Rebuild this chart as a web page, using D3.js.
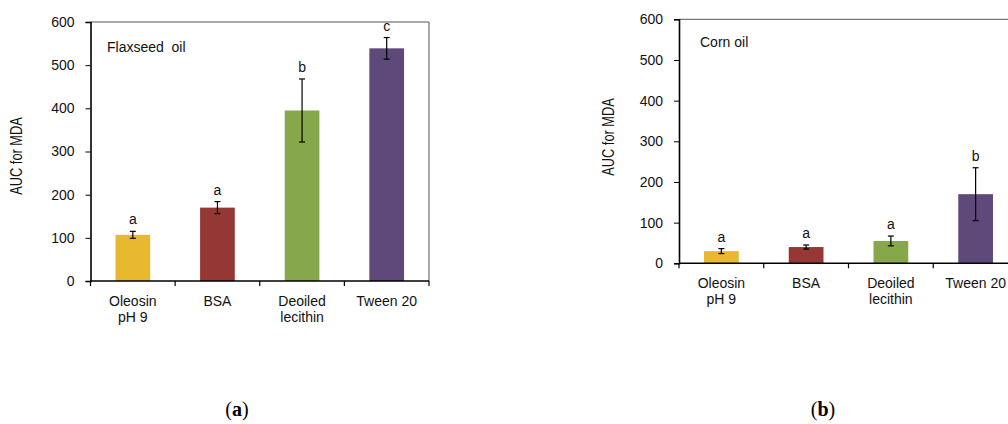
<!DOCTYPE html>
<html><head><meta charset="utf-8">
<script src="https://cdn.jsdelivr.net/npm/d3@7"></script>
<style>
body{margin:0;background:#fff;}
svg{display:block;font-family:"Liberation Sans",Arial,sans-serif;}
</style></head>
<body><svg id="c" width="1008" height="424"></svg>
<script>
const categories = ["Oleosin\npH 9", "BSA", "Deoiled\nlecithin", "Tween 20"];
const colors = ["#E8B92F", "#953735", "#86A84A", "#5F497A"];
const yTicks = [0, 100, 200, 300, 400, 500, 600];

const flaxValues = [107, 170, 395, 539];
const flaxErrors = [8, 14, 73, 25];
const flaxLetters = ["a", "a", "b", "c"];

const cornValues = [30, 40, 55, 170];
const cornErrors = [6, 5, 12, 65];
const cornLetters = ["a", "a", "a", "b"];

const panels = [
  {title: "Flaxseed  oil", values: flaxValues, errors: flaxErrors, letters: flaxLetters,
   x0: 90.5, x1: 429, y0: 281, y1: 22, tagX: 237, tag: "a", ylabX: 22, ylabY: 156, titleX: 107, titleY: 52},
  {title: "Corn oil", values: cornValues, errors: cornErrors, letters: cornLetters,
   x0: 679, x1: 1018, y0: 263.3, y1: 19.3, tagX: 823, tag: "b", ylabX: 614, ylabY: 137, titleX: 700, titleY: 47}
];

const svg = d3.select("#c");

panels.forEach(p => {
  const g = svg.append("g");
  const x = d3.scaleBand().domain(categories).range([p.x0, p.x1]).paddingInner(0.59).paddingOuter(0.295);
  const xb = d3.scaleBand().domain(categories).range([p.x0, p.x1]);
  const y = d3.scaleLinear().domain([0, 600]).range([p.y0, p.y1]);

  // frame top/right
  g.append("path")
    .attr("d", `M${p.x0},${p.y1}H${p.x1}V${p.y0}`)
    .attr("fill", "none").attr("stroke", "#555").attr("stroke-width", 1);

  // bars
  g.selectAll("rect.bar").data(p.values).enter().append("rect")
    .attr("x", (d, i) => x(categories[i]))
    .attr("width", x.bandwidth())
    .attr("y", d => y(d))
    .attr("height", d => y(0) - y(d))
    .attr("fill", (d, i) => colors[i]);

  // error bars
  p.values.forEach((v, i) => {
    const cx = xb(categories[i]) + xb.bandwidth() / 2;
    const e = p.errors[i];
    const eg = g.append("g").attr("stroke", "#000").attr("stroke-width", 1.2);
    eg.append("line").attr("x1", cx).attr("x2", cx).attr("y1", y(v + e)).attr("y2", y(v - e));
    eg.append("line").attr("x1", cx - 3).attr("x2", cx + 3).attr("y1", y(v + e)).attr("y2", y(v + e));
    eg.append("line").attr("x1", cx - 3).attr("x2", cx + 3).attr("y1", y(v - e)).attr("y2", y(v - e));
    g.append("text").attr("x", cx).attr("y", y(v + e) - 7)
      .attr("text-anchor", "middle").attr("font-size", 14).attr("fill", "#111")
      .text(p.letters[i]);
  });

  // y axis
  const ya = g.append("g").attr("transform", `translate(${p.x0},0)`)
    .call(d3.axisLeft(y).tickValues(yTicks).tickSize(5).tickPadding(11));
  ya.select(".domain").attr("stroke", "#000").attr("stroke-width", 1.6);
  ya.selectAll(".tick line").attr("stroke", "#000");
  ya.selectAll("text").attr("font-size", 14).attr("fill", "#111")
    .attr("font-family", '"Liberation Sans",Arial,sans-serif');

  // x axis
  const xa = g.append("g").attr("transform", `translate(0,${p.y0})`)
    .call(d3.axisBottom(xb).tickSize(0).tickFormat(""));
  xa.select(".domain").remove();
  g.append("line").attr("x1", p.x0).attr("x2", p.x1).attr("y1", p.y0).attr("y2", p.y0)
    .attr("stroke", "#000").attr("stroke-width", 1.6);
  const edges = categories.map(c => xb(c)).concat([p.x1]);
  g.selectAll("line.xt").data(edges).enter().append("line")
    .attr("x1", d => d).attr("x2", d => d).attr("y1", p.y0).attr("y2", p.y0 + 5)
    .attr("stroke", "#000").attr("stroke-width", 1.2);
  categories.forEach(c => {
    const t = g.append("text").attr("x", xb(c) + xb.bandwidth() / 2).attr("y", p.y0 + 25)
      .attr("text-anchor", "middle").attr("font-size", 14).attr("fill", "#111");
    c.split("\n").forEach((s, k) => {
      t.append("tspan").attr("x", xb(c) + xb.bandwidth() / 2).attr("dy", k === 0 ? 0 : 16).text(s);
    });
  });

  // title
  g.append("text").attr("x", p.titleX).attr("y", p.titleY).attr("font-size", 14).attr("fill", "#111")
    .attr("xml:space", "preserve").style("white-space", "pre").text(p.title);

  // y label (condensed)
  g.append("text").attr("transform", `translate(${p.ylabX},${p.ylabY}) rotate(-90) scale(0.8,1)`)
    .attr("text-anchor", "middle").attr("font-size", 16).attr("fill", "#111")
    .text("AUC for MDA");

  // tag
  const tg = svg.append("text").attr("x", p.tagX).attr("y", 416).attr("text-anchor", "middle")
    .attr("font-size", 20).attr("font-family", '"Liberation Serif","DejaVu Serif",serif').attr("fill", "#000");
  tg.append("tspan").text("(");
  tg.append("tspan").attr("font-weight", "bold").text(p.tag);
  tg.append("tspan").text(")");
});
</script></body></html>
